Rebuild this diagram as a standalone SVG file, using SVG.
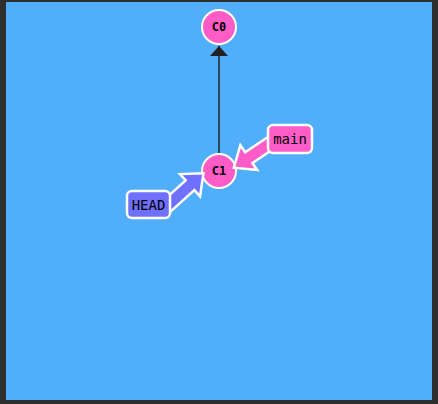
<svg xmlns="http://www.w3.org/2000/svg" width="438" height="404" viewBox="0 0 438 404">
<style>
.commit{fill:#ff5cc8;stroke:#fff;stroke-width:2}
.ctext{font-family:"DejaVu Sans Mono",monospace;font-size:12px;font-weight:bold;fill:#000;text-anchor:middle;dominant-baseline:central}
.ltext{font-family:"DejaVu Sans Mono",monospace;font-size:14px;fill:#000;text-anchor:middle;dominant-baseline:central}
.barrow{stroke:#fff;stroke-width:2.5;stroke-linejoin:miter}
</style>
<rect x="0" y="0" width="438" height="404" fill="#2e2e2e"/>
<rect x="6" y="2" width="426" height="398" fill="#50aefa"/>
<g id="connectors">
<line x1="219" y1="153" x2="219" y2="46" stroke="#222" stroke-width="1.5"/>
<path d="M210,56 L219,46 L228,56 z" fill="#222"/>
</g>
<g id="C0">
<circle class="commit" cx="219" cy="27" r="17"/>
<text class="ctext" x="219" y="27">C0</text>
</g>
<g id="C1">
<circle class="commit" cx="219" cy="171" r="17"/>
<text class="ctext" x="219" y="171">C1</text>
</g>
<g id="main">
<polygon class="barrow" fill="#ff5cc8" transform="translate(272,142) rotate(146)" points="0,-6.5 28,-6.5 28,-15 46,0 28,15 28,6.5 0,6.5"/>
<rect x="268" y="125" width="44" height="28" rx="5" fill="#ff5cc8" stroke="#fff" stroke-width="2.5"/>
<text class="ltext" x="290" y="139">main</text>
</g>
<g id="HEAD">
<polygon class="barrow" fill="#7070ff" transform="translate(167,206) rotate(-42)" points="0,-6.5 31,-6.5 31,-15 49,0 31,15 31,6.5 0,6.5"/>
<rect x="127" y="191" width="43" height="27" rx="5" fill="#7070ff" stroke="#fff" stroke-width="2.5"/>
<text class="ltext" x="148.5" y="204.5">HEAD</text>
</g>
</svg>
